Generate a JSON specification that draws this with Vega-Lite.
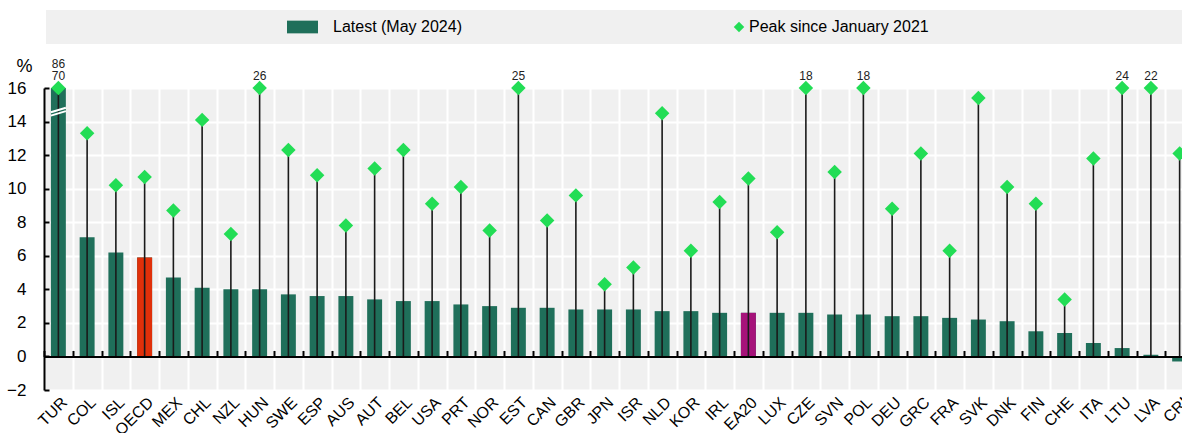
{
  "$schema": "https://vega.github.io/schema/vega-lite/v6.json",
  "autosize": {"type": "none"},
  "padding": {"left": 44, "top": 88, "right": -12, "bottom": 43},
  "width": 1150,
  "height": 302,
  "background": "#ffffff",
  "config": {
    "font": "Liberation Sans",
    "view": {"fill": "#f0f0f0", "stroke": null}
  },
  "data": {
    "values": [
      {"country": "TUR", "latest": 70, "peak": 86},
      {"country": "COL", "latest": 7.1, "peak": 13.3},
      {"country": "ISL", "latest": 6.2, "peak": 10.2},
      {"country": "OECD", "latest": 5.9, "peak": 10.7},
      {"country": "MEX", "latest": 4.7, "peak": 8.7},
      {"country": "CHL", "latest": 4.1, "peak": 14.1},
      {"country": "NZL", "latest": 4.0, "peak": 7.3},
      {"country": "HUN", "latest": 4.0, "peak": 26},
      {"country": "SWE", "latest": 3.7, "peak": 12.3},
      {"country": "ESP", "latest": 3.6, "peak": 10.8},
      {"country": "AUS", "latest": 3.6, "peak": 7.8},
      {"country": "AUT", "latest": 3.4, "peak": 11.2},
      {"country": "BEL", "latest": 3.3, "peak": 12.3},
      {"country": "USA", "latest": 3.3, "peak": 9.1},
      {"country": "PRT", "latest": 3.1, "peak": 10.1},
      {"country": "NOR", "latest": 3.0, "peak": 7.5},
      {"country": "EST", "latest": 2.9, "peak": 25},
      {"country": "CAN", "latest": 2.9, "peak": 8.1},
      {"country": "GBR", "latest": 2.8, "peak": 9.6},
      {"country": "JPN", "latest": 2.8, "peak": 4.3},
      {"country": "ISR", "latest": 2.8, "peak": 5.3},
      {"country": "NLD", "latest": 2.7, "peak": 14.5},
      {"country": "KOR", "latest": 2.7, "peak": 6.3},
      {"country": "IRL", "latest": 2.6, "peak": 9.2},
      {"country": "EA20", "latest": 2.6, "peak": 10.6},
      {"country": "LUX", "latest": 2.6, "peak": 7.4},
      {"country": "CZE", "latest": 2.6, "peak": 18},
      {"country": "SVN", "latest": 2.5, "peak": 11.0},
      {"country": "POL", "latest": 2.5, "peak": 18},
      {"country": "DEU", "latest": 2.4, "peak": 8.8},
      {"country": "GRC", "latest": 2.4, "peak": 12.1},
      {"country": "FRA", "latest": 2.3, "peak": 6.3},
      {"country": "SVK", "latest": 2.2, "peak": 15.4},
      {"country": "DNK", "latest": 2.1, "peak": 10.1},
      {"country": "FIN", "latest": 1.5, "peak": 9.1},
      {"country": "CHE", "latest": 1.4, "peak": 3.4},
      {"country": "ITA", "latest": 0.8, "peak": 11.8},
      {"country": "LTU", "latest": 0.5, "peak": 24},
      {"country": "LVA", "latest": 0.1, "peak": 22},
      {"country": "CRI", "latest": -0.3, "peak": 12.1}
    ]
  },
  "resolve": {"axis": {"x": "independent", "y": "independent"}},
  "layer": [
    {
      "mark": {"type": "bar", "width": {"band": 0.52}},
      "encoding": {
        "x": {
          "field": "country", "type": "nominal", "sort": null,
          "scale": {"paddingInner": 0, "paddingOuter": 0},
          "axis": {
            "orient": "bottom", "title": null, "labelAngle": -45,
            "labelFont": "Liberation Sans",
            "labelFontSize": 16, "labelColor": "#000000", "labelPadding": 4,
            "labelOverlap": false,
            "ticks": false, "domain": false, "grid": true, "gridColor": "#ffffff",
            "gridWidth": 2, "tickBand": "extent"
          }
        },
        "y": {
          "field": "latest", "type": "quantitative",
          "scale": {"domain": [-2, 16], "clamp": true, "nice": false, "zero": false},
          "axis": {
            "orient": "left", "values": [-2, 0, 2, 4, 6, 8, 10, 12, 14, 16],
            "title": "%", "titleAngle": 0, "titleX": -20, "titleY": -22,
            "titleAlign": "center", "titleBaseline": "middle",
            "titleFont": "Liberation Sans",
            "titleFontSize": 18, "titleFontWeight": "normal", "titleColor": "#000000",
            "labelFont": "Liberation Sans",
            "labelFontSize": 17, "labelColor": "#000000", "labelPadding": 23,
            "labelOverlap": false, "labelFlush": false,
            "domainColor": "#000000", "domainWidth": 2,
            "tickColor": "#000000", "tickWidth": 2, "tickSize": -5,
            "grid": true, "gridColor": "#ffffff", "gridWidth": 2
          }
        },
        "color": {
          "datum": "Latest (May 2024)",
          "type": "nominal",
          "scale": {
            "domain": ["Latest (May 2024)", "Peak since January 2021", "\u00a0"],
            "range": ["#1f6f5a", "#22dd55", "#f0f0f0"]
          },
          "legend": {
            "orient": "none", "legendX": 2, "legendY": -78,
            "direction": "horizontal",
            "title": "\u00a0", "titleOrient": "left", "titleFontSize": 1, "titlePadding": 232,
            "fillColor": "#f0f0f0", "padding": 9, "clipHeight": 16,
            "labelFont": "Liberation Sans", "labelFontSize": 16, "labelColor": "#000000",
            "labelOffset": 15, "labelLimit": 400,
            "symbolSize": 961, "symbolStrokeWidth": 0,
            "symbolType": "M-1,-0.41H1V0.41H-1Z",
            "columnPadding": 241,
            "values": ["Latest (May 2024)", "Peak since January 2021", "\u00a0"],
            "encode": {
              "symbols": {
                "update": {
                  "shape": {"signal": "datum.value === 'Peak since January 2021' ? 'diamond' : 'M-1,-0.41H1V0.41H-1Z'"},
                  "size": {"signal": "datum.value === 'Peak since January 2021' ? 110 : 961"},
                  "x": {"signal": "datum.value === 'Peak since January 2021' ? 36 : 15.5"}
                }
              }
            }
          }
        }
      }
    },
    {
      "transform": [{"filter": "datum.country === 'OECD' || datum.country === 'EA20'"}],
      "mark": {"type": "bar", "width": {"band": 0.52}},
      "encoding": {
        "x": {"field": "country", "type": "nominal", "sort": null, "axis": null},
        "y": {"field": "latest", "type": "quantitative", "axis": null},
        "color": {
          "condition": {"test": "datum.country === 'OECD'", "value": "#e0300a"},
          "value": "#a6127a"
        }
      }
    },
    {
      "mark": {"type": "rule", "color": "#1a1a1a", "strokeWidth": 1.6},
      "encoding": {
        "x": {
          "field": "country", "type": "nominal", "sort": null,
          "axis": {
            "orient": "top", "offset": -268.44, "labels": false, "title": null,
            "grid": false, "domain": true, "domainColor": "#000000", "domainWidth": 2,
            "ticks": true, "tickBand": "extent", "tickColor": "#000000",
            "tickWidth": 2, "tickSize": 6, "zindex": 2
          }
        },
        "y": {"field": "peak", "type": "quantitative", "axis": null},
        "y2": {"datum": 0}
      }
    },
    {
      "mark": {"type": "point", "shape": "diamond", "filled": true, "size": 210, "opacity": 1},
      "encoding": {
        "x": {"field": "country", "type": "nominal", "sort": null, "axis": null},
        "y": {"field": "peak", "type": "quantitative", "axis": null},
        "color": {"datum": "Peak since January 2021", "type": "nominal"}
      }
    },
    {
      "transform": [{"filter": "datum.latest > 16"}],
      "mark": {"type": "point", "shape": "M-1,0.1L1,-0.5M-1,0.55L1,-0.05", "filled": false, "size": 225, "stroke": "#ffffff", "strokeWidth": 2, "opacity": 1},
      "encoding": {
        "x": {"field": "country", "type": "nominal", "sort": null, "axis": null},
        "y": {"datum": 14.6, "type": "quantitative", "axis": null}
      }
    },
    {
      "transform": [{"filter": "datum.peak > 16 && datum.latest <= 16"}],
      "mark": {"type": "text", "dy": -8, "baseline": "alphabetic", "fontSize": 12, "color": "#222222", "font": "Liberation Sans"},
      "encoding": {
        "x": {"field": "country", "type": "nominal", "sort": null, "axis": null},
        "y": {"field": "peak", "type": "quantitative", "axis": null},
        "text": {"field": "peak", "type": "quantitative"}
      }
    },
    {
      "transform": [{"filter": "datum.latest > 16"}],
      "mark": {"type": "text", "dy": -8, "baseline": "alphabetic", "fontSize": 12, "color": "#222222", "font": "Liberation Sans"},
      "encoding": {
        "x": {"field": "country", "type": "nominal", "sort": null, "axis": null},
        "y": {"field": "latest", "type": "quantitative", "axis": null},
        "text": {"field": "latest", "type": "quantitative"}
      }
    },
    {
      "transform": [{"filter": "datum.latest > 16"}],
      "mark": {"type": "text", "dy": -20, "baseline": "alphabetic", "fontSize": 12, "color": "#222222", "font": "Liberation Sans"},
      "encoding": {
        "x": {"field": "country", "type": "nominal", "sort": null, "axis": null},
        "y": {"field": "peak", "type": "quantitative", "axis": null},
        "text": {"field": "peak", "type": "quantitative"}
      }
    }
  ]
}
